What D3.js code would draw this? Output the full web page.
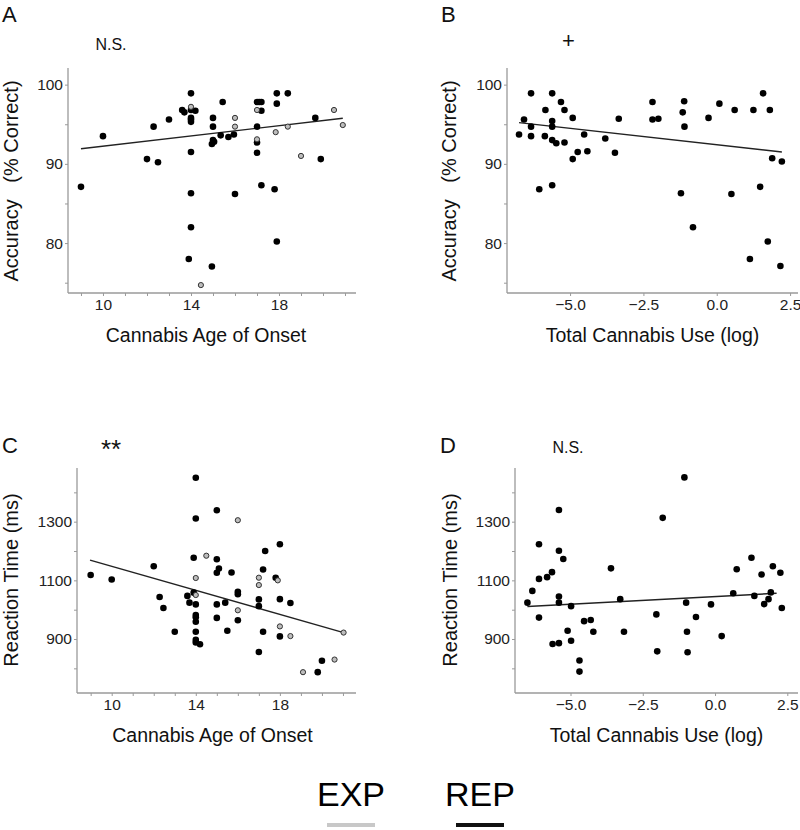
<!DOCTYPE html>
<html>
<head>
<meta charset="utf-8">
<script src="https://cdn.jsdelivr.net/npm/d3@7"></script>
<style>
  html, body { margin: 0; padding: 0; background: #fff; }
  svg text { font-family: "Liberation Sans", Arial, Helvetica, sans-serif; }
</style>
</head>
<body>
<svg id="chart" width="800" height="830"></svg>
<script>
// ---------------- DATA ----------------
// Panel A: Accuracy vs Cannabis Age of Onset
const onsetRepA = [9, 10, 12, 12.3, 12.5, 13, 13.6, 13.7, 14, 14.2, 14, 14, 14, 14, 14, 14, 14, 13.9, 15, 15, 15, 15.05, 14.95, 15.44, 15.35, 15.7, 15.95, 16, 14.95, 17, 17.1, 17.2, 17.2, 17, 17, 17, 17.2, 17.8, 17.9, 17.9, 17.9, 18.4, 19.65, 19.9];
const accRepA   = [87.1, 93.5, 90.6, 94.7, 90.2, 95.6, 96.8, 96.5, 96.8, 96.7, 98.9, 95.8, 95.6, 95.3, 91.5, 86.3, 82.0, 78.0, 95.8, 94.7, 93.0, 92.8, 92.5, 97.8, 93.6, 93.4, 93.7, 86.2, 77.05, 97.8, 97.8, 97.8, 96.7, 94.7, 92.7, 91.4, 87.3, 86.8, 98.9, 97.6, 80.2, 98.9, 95.8, 90.6];
const onsetExpA = [14, 16, 16, 17, 17, 17.85, 18.4, 19.0, 20.5, 20.9, 14.45];
const accExpA   = [97.2, 95.8, 94.7, 96.8, 93.1, 94.0, 94.7, 91.0, 96.8, 94.9, 74.7];
const fitAx = [9, 20.9];
const fitAy = [91.9, 95.75];

// Panel B: Accuracy vs Total Cannabis Use (log)
const useB = [-6.74, -6.57, -6.33, -6.33, -6.33, -6.05, -5.86, -5.84, -5.61, -5.61, -5.61, -5.61, -5.61, -5.47, -5.31, -5.19, -5.19, -4.91, -4.91, -4.74, -4.52, -4.41, -3.8, -3.47, -3.34, -2.19, -2.19, -1.99, -1.22, -1.16, -1.11, -1.10, -0.81, -0.28, 0.09, 0.5, 0.61, 1.13, 1.25, 1.48, 1.58, 1.74, 1.81, 1.89, 2.17, 2.22];
const accB = [93.7, 95.6, 98.9, 94.7, 93.5, 86.8, 93.5, 96.8, 98.9, 95.4, 94.7, 93.0, 87.3, 92.6, 97.8, 96.8, 92.7, 95.8, 90.6, 91.5, 93.7, 91.6, 93.2, 91.4, 95.7, 97.8, 95.6, 95.7, 86.3, 96.5, 97.9, 94.7, 82.0, 95.8, 97.6, 86.2, 96.8, 78.0, 96.8, 87.1, 98.9, 80.2, 96.8, 90.7, 77.1, 90.3];
const fitBx = [-6.74, 2.22];
const fitBy = [95.2, 91.5];

// Panel C: Reaction Time vs Cannabis Age of Onset
const onsetRepC = [9, 10, 12, 12.28, 12.46, 13, 13.6, 13.7, 13.9, 13.9, 14, 14, 14, 14, 14, 14, 14, 14, 14, 14.2, 15, 15, 15.1, 15, 15, 15, 15.4, 15.5, 15.7, 16, 16, 16, 17, 17, 17, 17.2, 17.2, 17.3, 17.8, 18, 18, 18, 18.5, 19.8, 20.0];
const rtRepC    = [1118, 1103, 1148, 1043, 1006, 925, 1047, 1024, 1177, 1058, 1450, 1311, 1018, 982, 974, 959, 925, 897, 888, 882, 1339, 1172, 1140, 1126, 1018, 972, 1024, 928, 1127, 1061, 1053, 964, 856, 1035, 1012, 1137, 925, 1200, 1109, 1223, 1036, 909, 1023, 787, 826];
const onsetExpC = [14.5, 14, 14, 16, 16, 17, 17, 17.9, 18, 18.5, 19.1, 20.6, 21.03];
const rtExpC    = [1184, 1108, 1050, 1305, 998, 1109, 1084, 1100, 943, 910, 787, 830, 922];
const fitCx = [8.97, 21.03];
const fitCy = [1169, 922];

// Panel D: Reaction Time vs Total Cannabis Use (log)
const useD = [-6.49, -6.32, -6.09, -6.09, -6.09, -5.81, -5.64, -5.62, -5.40, -5.40, -5.40, -5.40, -5.40, -5.25, -5.1, -4.98, -4.98, -4.69, -4.69, -4.53, -4.30, -4.21, -3.6, -3.28, -3.15, -2.03, -2.0, -1.81, -1.06, -1.0, -0.97, -0.95, -0.66, -0.14, 0.23, 0.63, 0.75, 1.26, 1.36, 1.61, 1.70, 1.85, 1.93, 2.0, 2.26, 2.31];
const rtD  = [1024, 1064, 1223, 1105, 973, 1111, 1128, 883, 1340, 1201, 1045, 1024, 886, 1173, 928, 1012, 894, 827, 789, 961, 965, 925, 1141, 1036, 925, 984, 858, 1313, 1451, 1024, 925, 855, 975, 1018, 910, 1056, 1138, 1177, 1047, 1120, 1019, 1036, 1059, 1148, 1126, 1006];
const fitDx = [-6.49, 2.13];
const fitDy = [1011, 1056];

// Tick values / labels
const onsetTicks = [9, 10, 11, 12, 13, 14, 15, 16, 17, 18, 19, 20, 21];
const onsetLabels = [10, 14, 18];
const useTicks = [-5.0, -2.5, 0.0, 2.5];
const accTicks = [75, 80, 85, 90, 95, 100];
const accLabels = [80, 90, 100];
const rtTicks = [800, 900, 1000, 1100, 1200, 1300, 1400];
const rtLabels = [900, 1100, 1300];

// Legend
const legendLabels = ["EXP", "REP"];
const legendColors = ["#c8c8c8", "#111111"];

// -------------- DRAW ----------------
const svg = d3.select("#chart");
const axisColor = "#9a9a9a";

function panel(cfg) {
  const g = svg.append("g");
  const x = d3.scaleLinear().domain(cfg.xDomain).range([cfg.x0, cfg.x1]);
  const y = d3.scaleLinear().domain(cfg.yDomain).range([cfg.y1, cfg.y0]);

  // x axis
  const xa = g.append("g").attr("transform", `translate(0,${cfg.y1})`)
    .call(d3.axisBottom(x).tickValues(cfg.xTicks).tickSize(3).tickPadding(3)
      .tickSizeOuter(0)
      .tickFormat(d => cfg.xLabels.includes(d) ? cfg.xFmt(d) : ""));
  xa.select(".domain").attr("stroke", axisColor).attr("stroke-width", 1.3)
    .attr("d", `M${cfg.x0},0H${cfg.x1}`);
  xa.selectAll(".tick line").attr("stroke", axisColor);
  xa.selectAll(".tick text").attr("font-size", 15.5).attr("fill", "#222")
    .attr("font-family", "Liberation Sans, Arial, sans-serif");

  // y axis
  const ya = g.append("g").attr("transform", `translate(${cfg.x0},0)`)
    .call(d3.axisLeft(y).tickValues(cfg.yTicks).tickSize(3).tickPadding(2)
      .tickSizeOuter(0)
      .tickFormat(d => cfg.yLabels.includes(d) ? String(d) : ""));
  ya.select(".domain").attr("stroke", axisColor).attr("stroke-width", 1.3)
    .attr("d", `M0,${cfg.y0}V${cfg.y1}`);
  ya.selectAll(".tick line").attr("stroke", axisColor);
  ya.selectAll(".tick text").attr("font-size", 15.5).attr("fill", "#222")
    .attr("font-family", "Liberation Sans, Arial, sans-serif");

  // fit line
  g.append("line")
    .attr("x1", x(cfg.fitX[0])).attr("y1", y(cfg.fitY[0]))
    .attr("x2", x(cfg.fitX[1])).attr("y2", y(cfg.fitY[1]))
    .attr("stroke", "#222").attr("stroke-width", 1.4);

  // REP points (black)
  g.selectAll("circle.rep").data(d3.zip(cfg.repX, cfg.repY)).join("circle")
    .attr("class", "rep")
    .attr("cx", d => x(d[0])).attr("cy", d => y(d[1])).attr("r", 3.3)
    .attr("fill", "#000");

  // EXP points (grey)
  if (cfg.expX) {
    g.selectAll("circle.exp").data(d3.zip(cfg.expX, cfg.expY)).join("circle")
      .attr("class", "exp")
      .attr("cx", d => x(d[0])).attr("cy", d => y(d[1])).attr("r", 2.6)
      .attr("fill", "#bdbdbd").attr("stroke", "#333").attr("stroke-width", 1);
  }

  // x title
  g.append("text").attr("x", (cfg.x0 + cfg.x1) / 2 + (cfg.xTitleDx || 0)).attr("y", cfg.y1 + 49)
    .attr("text-anchor", "middle").attr("font-size", 19.5).attr("fill", "#111")
    .text(cfg.xTitle);

  // y title
  g.append("text")
    .attr("transform", `translate(${cfg.yTitleX},${cfg.yTitleY}) rotate(-90)`)
    .attr("text-anchor", "middle").attr("font-size", 20).attr("fill", "#111")
    .style("white-space", "pre")
    .text(cfg.yTitle);

  // panel letter
  g.append("text").attr("x", cfg.letterX).attr("y", cfg.letterY)
    .attr("font-size", 22).attr("fill", "#111").text(cfg.letter);

  // significance
  g.append("text").attr("x", cfg.sigX).attr("y", cfg.sigY)
    .attr("text-anchor", "middle")
    .attr("font-size", cfg.sigSize).attr("fill", "#111").text(cfg.sig);
}

const fmt1 = d => d3.format(".1f")(d).replace("-", "\u2212");

panel({
  x0: 68, x1: 356, y0: 68, y1: 293,
  xDomain: [8.41, 21.5], yDomain: [73.7, 102.1],
  xTicks: onsetTicks, xLabels: onsetLabels, xFmt: d => String(d),
  yTicks: accTicks, yLabels: accLabels,
  repX: onsetRepA, repY: accRepA, expX: onsetExpA, expY: accExpA,
  fitX: fitAx, fitY: fitAy,
  xTitle: "Cannabis Age of Onset", xTitleDx: -6,
  yTitle: "Accuracy   (% Correct)", yTitleX: 18, yTitleY: 181,
  letter: "A", letterX: 2, letterY: 22,
  sig: "N.S.", sigX: 111, sigY: 50, sigSize: 16
});

panel({
  x0: 507, x1: 798, y0: 68, y1: 293,
  xDomain: [-7.15, 2.77], yDomain: [73.7, 102.1],
  xTicks: useTicks, xLabels: useTicks, xFmt: fmt1,
  yTicks: accTicks, yLabels: accLabels,
  repX: useB, repY: accB,
  fitX: fitBx, fitY: fitBy,
  xTitle: "Total Cannabis Use (log)",
  yTitle: "Accuracy   (% Correct)", yTitleX: 456, yTitleY: 181,
  letter: "B", letterX: 441, letterY: 22,
  sig: "+", sigX: 568.5, sigY: 48, sigSize: 22
});

panel({
  x0: 77, x1: 356, y0: 468, y1: 693,
  xDomain: [8.35, 21.62], yDomain: [716, 1483],
  xTicks: onsetTicks, xLabels: onsetLabels, xFmt: d => String(d),
  yTicks: rtTicks, yLabels: rtLabels,
  repX: onsetRepC, repY: rtRepC, expX: onsetExpC, expY: rtExpC,
  fitX: fitCx, fitY: fitCy,
  xTitle: "Cannabis Age of Onset", xTitleDx: -4,
  yTitle: "Reaction Time (ms)", yTitleX: 18, yTitleY: 580,
  letter: "C", letterX: 2, letterY: 453,
  sig: "**", sigX: 111, sigY: 458, sigSize: 26
});

panel({
  x0: 515, x1: 798, y0: 468, y1: 693,
  xDomain: [-6.92, 2.87], yDomain: [716, 1483],
  xTicks: useTicks, xLabels: useTicks, xFmt: fmt1,
  yTicks: rtTicks, yLabels: rtLabels,
  repX: useD, repY: rtD,
  fitX: fitDx, fitY: fitDy,
  xTitle: "Total Cannabis Use (log)",
  yTitle: "Reaction Time (ms)", yTitleX: 457, yTitleY: 580,
  letter: "D", letterX: 440, letterY: 453,
  sig: "N.S.", sigX: 568, sigY: 453, sigSize: 16
});

// Legend
const legX = d3.scaleOrdinal().domain(legendLabels).range([351, 480]);
const leg = svg.append("g");
leg.selectAll("text.leg").data(legendLabels).join("text")
  .attr("class", "leg")
  .attr("x", d => legX(d)).attr("y", 806)
  .attr("text-anchor", "middle").attr("font-size", 34).attr("fill", "#000")
  .text(d => d);
leg.selectAll("rect.leg").data(legendLabels).join("rect")
  .attr("class", "leg")
  .attr("x", d => legX(d) - 24).attr("y", 823).attr("width", 48).attr("height", 4)
  .attr("fill", (d, i) => legendColors[i]);
</script>
</body>
</html>
